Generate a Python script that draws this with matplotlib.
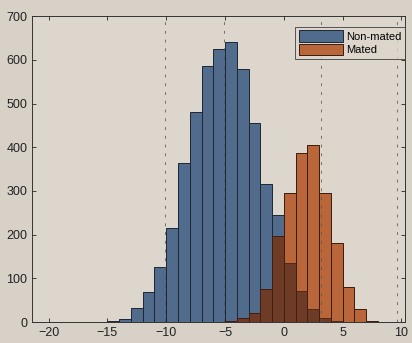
import numpy as np
import matplotlib.pyplot as plt

plt.rcParams["font.family"] = ["Liberation Sans", "DejaVu Sans"]

# histogram bins (width 1) and counts
bin_edges = np.arange(-20, 10)  # -20 ... 9
non_mated = [0, 0, 0, 0, 1, 3, 7, 33, 69, 127, 216, 365, 480, 585, 625, 640,
             580, 456, 316, 246, 136, 70, 29, 9, 2, 0, 0, 0, 0]
mated = [0, 0, 0, 0, 0, 0, 0, 0, 0, 0, 0, 0, 0, 0, 0, 2,
         9, 20, 75, 196, 296, 387, 406, 296, 180, 80, 29, 3, 1]
threshold_lines = [-10.1, -5.05, 3.2, 9.6]

bg = "#d7d1c7"
blue = "#516b8d"
orange = "#b9673a"
overlap = "#6e3b26"

fig = plt.figure(figsize=(4.12, 3.43), dpi=100, facecolor=bg)
ax = fig.add_axes([0.078, 0.061, 0.905, 0.892], facecolor="#dcd6cc")

centers = bin_edges[:-1] + 0.5
ax.hist(centers, bins=bin_edges, weights=non_mated, color=blue,
        edgecolor="#1f2633", linewidth=0.7, label="Non-mated")
ax.hist(centers, bins=bin_edges, weights=mated, color=orange,
        edgecolor="#3a1a0c", linewidth=0.7, label="Mated")
# where the two (semi transparent) histograms overlap
ax.hist(centers, bins=bin_edges, weights=np.minimum(non_mated, mated),
        color=overlap, edgecolor="#3a1a0c", linewidth=0.5)

for xv in threshold_lines:
    ax.axvline(xv, color="#555555", linestyle=(0, (3, 6)), linewidth=0.7,
               alpha=0.8)

ax.set_xlim(-21.4, 10.3)
ax.set_ylim(0, 700)
ax.set_xticks(np.arange(-20, 11, 5))
ax.set_yticks(np.arange(0, 701, 100))
ax.tick_params(direction="in", top=True, right=True, labelsize=9,
               colors="#222222", length=3, width=0.6)
for s in ax.spines.values():
    s.set_linewidth(0.7)
    s.set_color("#333333")

leg = ax.legend(loc="upper right", bbox_to_anchor=(1.0, 0.965), fontsize=8,
                frameon=True, fancybox=False, handlelength=4.0,
                handleheight=1.2, borderpad=0.3, labelspacing=0.2,
                handletextpad=0.3, borderaxespad=0.0)
leg.get_frame().set_edgecolor("#333333")
leg.get_frame().set_facecolor("#dcd6cc")
leg.get_frame().set_linewidth(0.7)

fig.savefig("out.png", dpi=100, facecolor=bg)
